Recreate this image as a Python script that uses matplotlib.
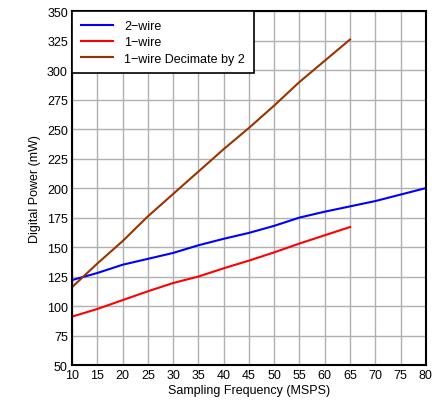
import matplotlib
matplotlib.use("Agg")
import matplotlib.pyplot as plt

plt.rcParams['font.family'] = ['Liberation Sans', 'DejaVu Sans']

# sampling frequency (MSPS)
f_2wire = [10, 15, 20, 25, 30, 35, 40, 45, 50, 55, 60, 65, 70, 75, 80]
p_2wire = [122, 128, 135, 140, 145, 151.5, 157, 162, 168, 175, 180, 184.5, 189, 194.5, 200]

f_1wire = [10, 15, 20, 25, 30, 35, 40, 45, 50, 55, 60, 65]
p_1wire = [91, 97.5, 105, 112.5, 119.5, 125, 132, 138.5, 145.5, 153, 160, 167]

f_dec2 = [10, 15, 20, 25, 30, 35, 40, 45, 50, 55, 60, 65]
p_dec2 = [116, 136, 155, 176, 195, 214, 233, 251, 270, 290, 308, 326]

fig = plt.figure(figsize=(4.35, 4.06), dpi=100)
ax = fig.add_axes([0.1655, 0.0985, 0.8135, 0.8715])

ax.plot(f_2wire, p_2wire, color='#0000ff', lw=1.5, label='2\u2212wire')
ax.plot(f_1wire, p_1wire, color='#ff0000', lw=1.5, label='1\u2212wire')
ax.plot(f_dec2, p_dec2, color='#993300', lw=1.5, label='1\u2212wire Decimate by 2')

ax.set_xlim(10, 80)
ax.set_ylim(50, 350)
ax.set_xticks(range(10, 81, 5))
ax.set_yticks(range(50, 351, 25))
ax.grid(True, color='#b0b0b0', lw=1)
ax.set_axisbelow(True)
ax.tick_params(length=0, labelsize=9, pad=3)
for s in ax.spines.values():
    s.set_linewidth(1.5)
    s.set_color('black')

ax.set_xlabel('Sampling Frequency (MSPS)', fontsize=9, labelpad=2)
ax.set_ylabel('Digital Power (mW)', fontsize=9, labelpad=4)

leg = ax.legend(loc='upper left', fontsize=9, frameon=True, fancybox=False,
                borderaxespad=0, handlelength=2.6, labelspacing=0.35,
                borderpad=0.7, handletextpad=0.9)
leg.get_frame().set_edgecolor('black')
leg.get_frame().set_linewidth(1.2)
leg.get_frame().set_alpha(1)

fig.savefig('out.png', dpi=100)
